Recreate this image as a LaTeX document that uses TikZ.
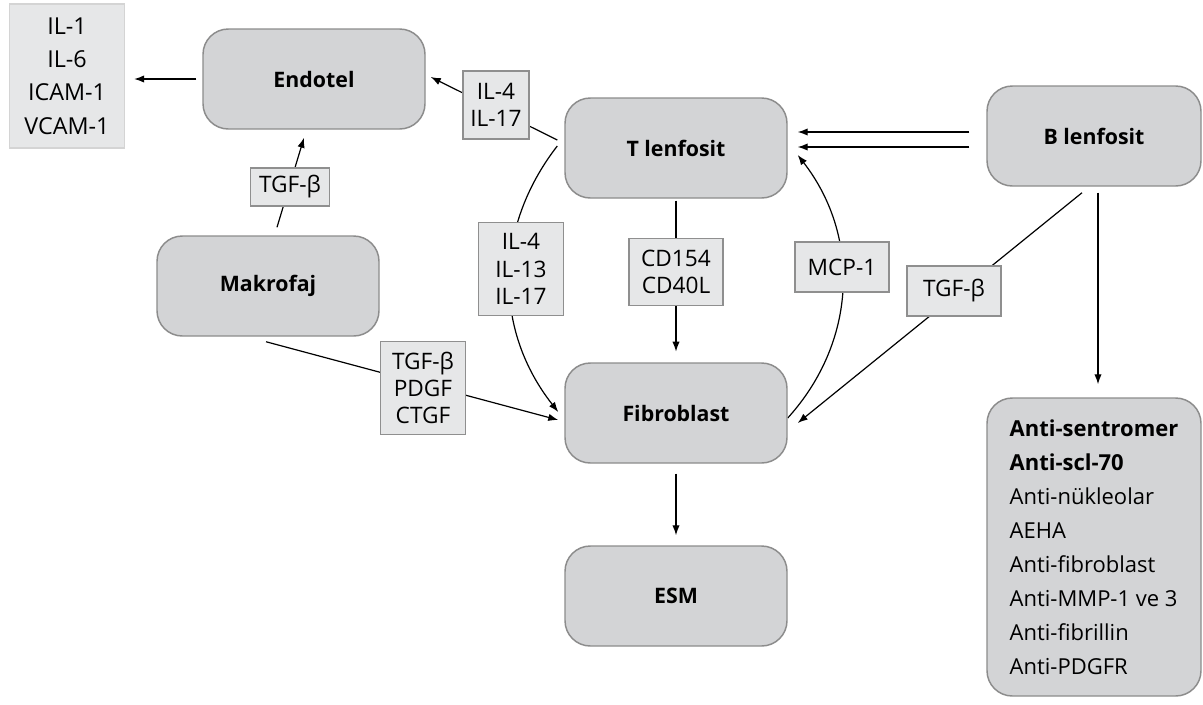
\documentclass[tikz,border=0pt]{standalone}
\usepackage{fontspec}
\setmainfont{Open Sans}
\usetikzlibrary{arrows.meta}
\usetikzlibrary{positioning}
\usetikzlibrary{calc}
\usetikzlibrary{backgrounds}

\definecolor{cellfill}{HTML}{D3D4D6}
\definecolor{cellline}{HTML}{8C8C8C}
\definecolor{tagfill}{HTML}{E6E7E8}
\definecolor{tagline}{HTML}{8F8F8F}
\definecolor{listline}{HTML}{D4D4D4}

\begin{document}
\begin{tikzpicture}[
  x=0.75pt,
  y=0.75pt,
  cell/.style={rectangle, rounded corners=19pt, draw=cellline, fill=cellfill, line width=1.1pt,
    minimum width=166.5pt, minimum height=75pt, inner sep=0pt,
    font=\fontsize{16}{19}\selectfont\bfseries},
  tag/.style={rectangle, draw=tagline, fill=tagfill, line width=1pt, inner sep=0pt,
    align=center, font=\fontsize{17}{20.5}\selectfont},
  arr/.style={-{Latex[length=7.5pt,width=5.5pt]}, line width=0.9pt}
]

\useasboundingbox (0,0) rectangle (1203,-704);

% cells
\node[cell] (endo) at (314,-79) {Endotel};
\node[cell] (tcell) at (676,-148) {T lenfosit};
\node[cell, minimum width=160.5pt] (bcell) at (1094,-136) {B lenfosit};
\node[cell] (mac) at (268,-286) {Makrofaj};
\node[cell] (fib) at (676,-413) {Fibroblast};
\node[cell] (esm) at (676,-596) {ESM};
\node[cell, minimum width=160.5pt, minimum height=223.5pt, align=left,
  font=\fontsize{16.5}{25.5}\selectfont] (anti) at (1094,-547)
  {\textbf{Anti-sentromer}\\ \textbf{Anti-scl-70}\\ Anti-nükleolar\\ AEHA\\
   Anti-fibroblast\\ Anti-MMP-1 ve 3\\ Anti-fibrillin\\ Anti-PDGFR};

% mediators
\node[tag, draw=listline, minimum width=86.25pt, minimum height=108pt,
  font=\fontsize{17.5}{25}\selectfont] (list) at (67,-76) {IL-1\\IL-6\\ICAM-1\\VCAM-1};
\node[tag, minimum width=49.5pt, minimum height=51pt] (t1) at (496,-105) {IL-4\\IL-17};
\node[tag, minimum width=63.75pt, minimum height=69.75pt] (t2) at (521,-269) {IL-4\\IL-13\\IL-17};
\node[tag, minimum width=70.5pt, minimum height=50.25pt] (t3) at (676,-272) {CD154\\CD40L};
\node[tag, minimum width=70.5pt, minimum height=37.5pt] (t4) at (842,-267) {MCP-1};
\node[tag, minimum width=70.5pt, minimum height=37.5pt] (t5) at (954,-291) {TGF-β};
\node[tag, minimum width=59.25pt, minimum height=28.5pt] (t6) at (290,-187) {TGF-β};
\node[tag, minimum width=63.75pt, minimum height=69.75pt] (t7) at (423,-388) {TGF-β\\PDGF\\CTGF};

\begin{scope}[on background layer]
\draw[arr, shorten <=4.5pt, shorten >=6.75pt] (endo.west) -- (list.east |- endo.west);
\draw[arr] ($(tcell.west)+(-7,8)$) -- ($(endo.east)+(5,2)$);
\draw[arr] ($(mac.north)+(9,8)$) -- ($(endo.south)+(-10,-8)$);
\draw[arr] ($(bcell.west)+(-17,4)$) -- ($(tcell.east)+(10,16)$);
\draw[arr] ($(bcell.west)+(-17,-11)$) -- ($(tcell.east)+(10,1)$);
\draw[arr, shorten <=1.5pt, shorten >=8pt] (tcell.south) -- (fib.north);
\draw[arr] ($(bcell.south)+(-12,-6)$) -- ($(fib.east)+(10,-10)$);
\draw[arr] ($(bcell.south)+(4,-6)$) -- ($(anti.north)+(4,13)$);
\draw[arr] ($(fib.east)+(0,-5)$) to[bend right=40] ($(tcell.east)+(10,-7)$);
\draw[arr] ($(tcell.west)+(-7,2)$) to[bend right=38] ($(fib.west)+(-6,1)$);
\draw[arr] ($(mac.south)+(-2,-5)$) -- ($(fib.west)+(-6,-7)$);
\draw[arr, shorten <=7.5pt, shorten >=7.5pt] (fib.south) -- (esm.north);
\end{scope}

\end{tikzpicture}
\end{document}
